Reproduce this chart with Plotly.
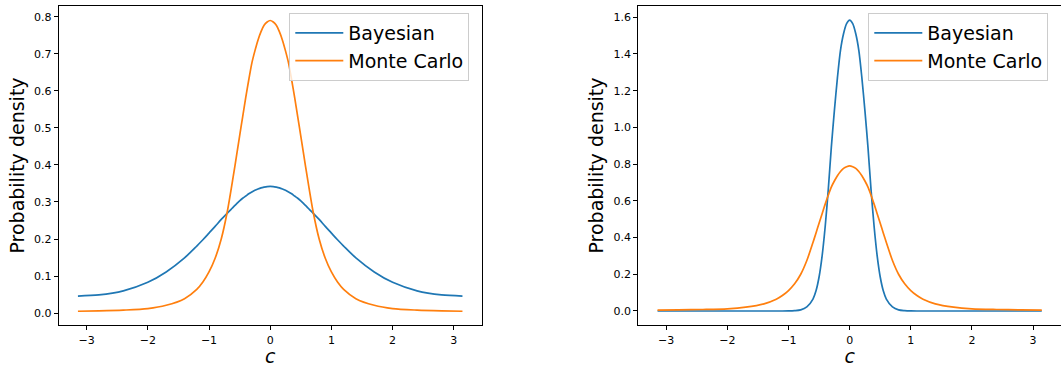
import plotly.graph_objects as go

# angle grid (c)
c_values = [-3.1416, -2.8, -2.4, -2.0, -1.7, -1.4, -1.2, -1.1, -1.0, -0.9, -0.8, -0.7,
            -0.6, -0.55, -0.5, -0.45, -0.4, -0.35, -0.3, -0.25, -0.2, -0.15, -0.1, -0.05,
            0.0,
            0.05, 0.1, 0.15, 0.2, 0.25, 0.3, 0.35, 0.4, 0.45, 0.5, 0.55, 0.6,
            0.7, 0.8, 0.9, 1.0, 1.1, 1.2, 1.4, 1.7, 2.0, 2.4, 2.8, 3.1416]

# left panel: Bayesian density
bayes_left = [0.046, 0.049, 0.060, 0.083, 0.111, 0.149, 0.181, 0.198, 0.216, 0.234, 0.253, 0.270,
              0.287, 0.295, 0.303, 0.310, 0.316, 0.322, 0.327, 0.3315, 0.335, 0.338, 0.340, 0.3416,
              0.342,
              0.3416, 0.340, 0.338, 0.335, 0.3315, 0.327, 0.322, 0.316, 0.310, 0.303, 0.295, 0.287,
              0.270, 0.253, 0.234, 0.216, 0.198, 0.181, 0.149, 0.111, 0.083, 0.060, 0.049, 0.046]

# Monte Carlo density (both panels)
monte_carlo = [0.005, 0.006, 0.008, 0.012, 0.021, 0.039, 0.064, 0.084, 0.111, 0.148, 0.200, 0.275,
               0.373, 0.425, 0.478, 0.530, 0.582, 0.630, 0.675, 0.708, 0.737, 0.760, 0.777, 0.786,
               0.790,
               0.786, 0.777, 0.760, 0.737, 0.708, 0.675, 0.630, 0.582, 0.530, 0.478, 0.425, 0.373,
               0.275, 0.200, 0.148, 0.111, 0.084, 0.064, 0.039, 0.021, 0.012, 0.008, 0.006, 0.005]

# right panel: Bayesian density
bayes_right = [0.0, 0.0, 0.0, 0.0, 0.0, 0.0, 0.0, 0.0, 0.0005, 0.002, 0.006, 0.022,
               0.065, 0.110, 0.185, 0.300, 0.460, 0.660, 0.890, 1.090, 1.270, 1.420, 1.510, 1.565,
               1.584,
               1.565, 1.510, 1.420, 1.270, 1.090, 0.890, 0.660, 0.460, 0.300, 0.185, 0.110, 0.065,
               0.022, 0.006, 0.002, 0.0005, 0.0, 0.0, 0.0, 0.0, 0.0, 0.0, 0.0, 0.0]

x_ticks = [-3, -2, -1, 0, 1, 2, 3]
y_ticks_left = [0.0, 0.1, 0.2, 0.3, 0.4, 0.5, 0.6, 0.7, 0.8]
y_ticks_right = [0.0, 0.2, 0.4, 0.6, 0.8, 1.0, 1.2, 1.4, 1.6]

BLUE = "#1f77b4"
ORANGE = "#ff7f0e"
FONT = "DejaVu Sans"
W, H = 1061, 367

fig = go.Figure()
line_style = dict(width=1.7, shape="spline", smoothing=0.8)

fig.add_trace(go.Scatter(x=c_values, y=bayes_left, mode="lines", name="Bayesian",
                         line=dict(color=BLUE, **line_style), xaxis="x", yaxis="y", legend="legend"))
fig.add_trace(go.Scatter(x=c_values, y=monte_carlo, mode="lines", name="Monte Carlo",
                         line=dict(color=ORANGE, **line_style), xaxis="x", yaxis="y", legend="legend"))
fig.add_trace(go.Scatter(x=c_values, y=bayes_right, mode="lines", name="Bayesian",
                         line=dict(color=BLUE, **line_style), xaxis="x2", yaxis="y2", legend="legend2"))
fig.add_trace(go.Scatter(x=c_values, y=monte_carlo, mode="lines", name="Monte Carlo",
                         line=dict(color=ORANGE, **line_style), xaxis="x2", yaxis="y2", legend="legend2"))

ydom = [1 - 325.3 / H, 1 - 5.7 / H]
axis_common = dict(showline=True, linecolor="black", linewidth=1, mirror=True,
                   ticks="outside", ticklen=4, tickwidth=1, tickcolor="black",
                   showgrid=False, zeroline=False,
                   tickfont=dict(family=FONT, size=11, color="black"))

xaxis_common = dict(axis_common, tickvals=x_ticks, range=[-3.456, 3.456],
                    title=dict(text="<i>c</i>", font=dict(family=FONT, size=19, color="black"), standoff=5))

legend_common = dict(font=dict(family=FONT, size=19, color="black"),
                     bgcolor="rgba(255,255,255,0.8)", bordercolor="#cccccc", borderwidth=1,
                     xanchor="left", yanchor="top", itemwidth=48, tracegroupgap=0)

fig.update_layout(
    width=W, height=H,
    margin=dict(l=0, r=0, t=0, b=0),
    paper_bgcolor="white", plot_bgcolor="white",
    font=dict(family=FONT, color="black"),
    xaxis=dict(xaxis_common, domain=[58.7 / W, 481.7 / W], anchor="y"),
    yaxis=dict(axis_common, domain=ydom, anchor="x", range=[-0.033, 0.830],
               tickvals=y_ticks_left, tickformat=".1f",
               title=dict(text="Probability density", font=dict(family=FONT, size=19, color="black"), standoff=4)),
    xaxis2=dict(xaxis_common, domain=[638.3 / W, 1.0], anchor="y2"),
    yaxis2=dict(axis_common, domain=ydom, anchor="x2", range=[-0.078, 1.663],
                tickvals=y_ticks_right, tickformat=".1f",
                title=dict(text="Probability density", font=dict(family=FONT, size=19, color="black"), standoff=4)),
    legend=dict(legend_common, x=289.3 / W, y=1 - 13.0 / H),
    legend2=dict(legend_common, x=868.3 / W, y=1 - 13.0 / H),
    showlegend=True,
)

fig.write_html("out.html")
